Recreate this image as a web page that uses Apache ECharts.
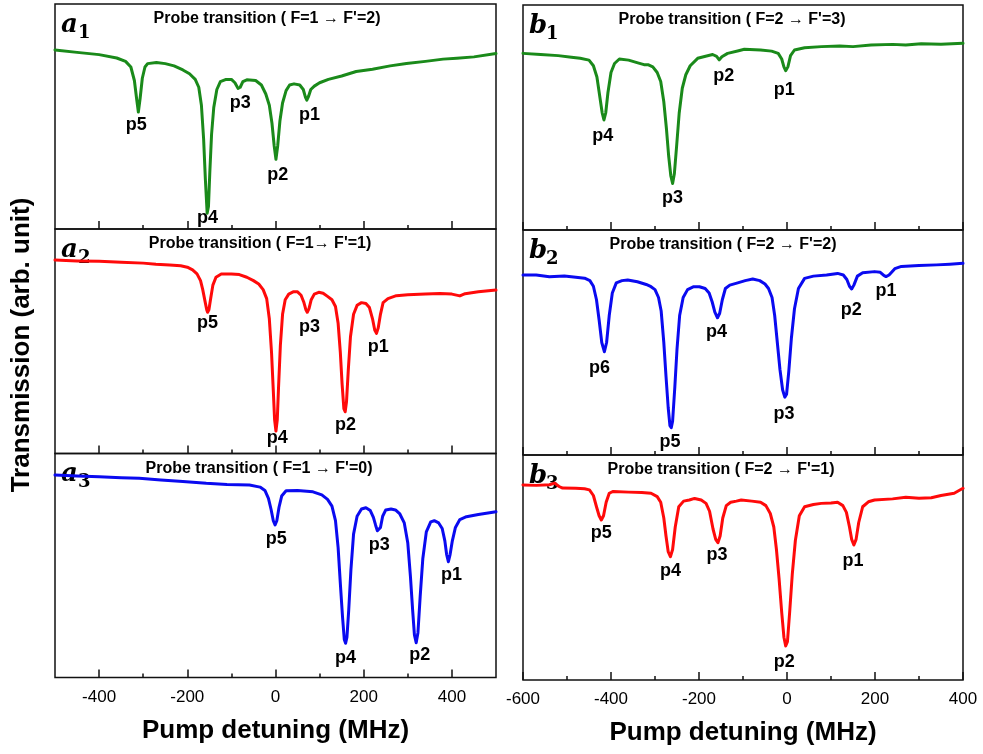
<!DOCTYPE html>
<html>
<head>
<meta charset="utf-8" />
<script src="https://cdn.jsdelivr.net/npm/echarts@6/dist/echarts.min.js"></script>
<style>
  html, body { margin: 0; padding: 0; background: #fff; }
  #main { width: 983px; height: 754px; }
</style>
</head>
<body>
<div id="main"></div>
<script>
// pump detuning (MHz) vs transmission (arb. unit)
const a1Curve = [[-500,0.796],[-450,0.785],[-400,0.775],[-360,0.760],[-340,0.745],[-328,0.72],[-320,0.66],[-315,0.58],[-311,0.52],[-307,0.58],[-302,0.67],[-296,0.72],[-290,0.735],[-270,0.74],[-250,0.735],[-230,0.725],[-210,0.707],[-195,0.69],[-182,0.665],[-174,0.63],[-168,0.55],[-163,0.40],[-159,0.22],[-155,0.07],[-152,0.10],[-149,0.25],[-145,0.42],[-140,0.54],[-133,0.62],[-125,0.655],[-112,0.665],[-100,0.665],[-92,0.65],[-85,0.625],[-80,0.63],[-74,0.655],[-65,0.663],[-45,0.66],[-32,0.64],[-22,0.60],[-14,0.55],[-8,0.47],[-3,0.37],[1,0.31],[5,0.37],[10,0.48],[16,0.56],[24,0.615],[32,0.64],[42,0.645],[55,0.64],[63,0.62],[68,0.585],[71,0.573],[75,0.59],[80,0.62],[88,0.635],[100,0.65],[120,0.665],[150,0.68],[183,0.70],[220,0.71],[260,0.725],[297,0.736],[340,0.745],[380,0.755],[411,0.759],[450,0.765],[500,0.78]];
const a2Curve = [[-500,0.862],[-450,0.858],[-400,0.856],[-350,0.852],[-300,0.848],[-271,0.843],[-240,0.84],[-215,0.836],[-200,0.83],[-188,0.818],[-178,0.80],[-170,0.77],[-165,0.73],[-160,0.68],[-156,0.64],[-154,0.629],[-151,0.64],[-147,0.69],[-142,0.75],[-135,0.785],[-123,0.80],[-100,0.80],[-82,0.797],[-65,0.785],[-50,0.77],[-38,0.755],[-28,0.73],[-20,0.69],[-14,0.60],[-9,0.45],[-5,0.28],[-2,0.15],[1,0.10],[4,0.15],[7,0.30],[11,0.48],[16,0.62],[22,0.685],[30,0.71],[40,0.72],[50,0.72],[58,0.705],[64,0.675],[69,0.64],[72,0.629],[76,0.645],[81,0.685],[88,0.71],[98,0.718],[108,0.714],[118,0.70],[128,0.685],[136,0.655],[142,0.58],[147,0.45],[151,0.31],[155,0.20],[158,0.186],[161,0.23],[165,0.37],[170,0.52],[177,0.62],[185,0.66],[195,0.672],[205,0.668],[213,0.65],[220,0.60],[225,0.55],[229,0.535],[233,0.56],[238,0.62],[244,0.672],[255,0.69],[274,0.703],[300,0.707],[340,0.71],[373,0.713],[400,0.71],[418,0.702],[430,0.712],[460,0.72],[500,0.728]];
const a3Curve = [[-500,0.904],[-450,0.90],[-400,0.896],[-350,0.892],[-309,0.889],[-260,0.882],[-210,0.875],[-157,0.867],[-110,0.862],[-59,0.859],[-35,0.85],[-24,0.835],[-16,0.80],[-10,0.75],[-5,0.70],[-1,0.681],[3,0.70],[8,0.76],[14,0.81],[24,0.834],[50,0.835],[85,0.829],[105,0.815],[118,0.795],[128,0.765],[136,0.70],[142,0.58],[147,0.42],[152,0.27],[156,0.17],[159,0.153],[162,0.18],[166,0.30],[171,0.48],[177,0.64],[185,0.72],[195,0.752],[205,0.758],[215,0.745],[222,0.715],[227,0.68],[231,0.655],[234,0.651],[238,0.67],[243,0.72],[250,0.748],[262,0.752],[272,0.748],[282,0.73],[292,0.69],[300,0.60],[306,0.45],[311,0.30],[315,0.19],[319,0.155],[323,0.20],[328,0.36],[334,0.53],[342,0.65],[352,0.695],[360,0.70],[370,0.69],[378,0.665],[384,0.61],[388,0.55],[392,0.517],[396,0.55],[401,0.61],[408,0.67],[418,0.705],[433,0.718],[460,0.728],[500,0.74]];
const b1Curve = [[-600,0.785],[-560,0.78],[-520,0.775],[-490,0.768],[-470,0.763],[-450,0.755],[-440,0.73],[-432,0.68],[-426,0.60],[-420,0.52],[-416,0.489],[-412,0.52],[-407,0.61],[-400,0.70],[-392,0.74],[-381,0.76],[-360,0.755],[-339,0.743],[-325,0.735],[-316,0.735],[-305,0.725],[-295,0.70],[-287,0.66],[-280,0.57],[-274,0.45],[-269,0.33],[-264,0.24],[-260,0.207],[-256,0.25],[-251,0.37],[-245,0.52],[-238,0.63],[-230,0.69],[-220,0.73],[-203,0.763],[-185,0.772],[-169,0.78],[-160,0.772],[-154,0.756],[-148,0.77],[-135,0.785],[-110,0.797],[-97,0.803],[-60,0.80],[-35,0.795],[-20,0.785],[-12,0.76],[-7,0.725],[-3,0.708],[2,0.725],[8,0.775],[17,0.80],[40,0.81],[78,0.815],[120,0.818],[150,0.815],[191,0.822],[240,0.825],[270,0.822],[305,0.828],[350,0.826],[400,0.83]];
const b2Curve = [[-600,0.80],[-570,0.80],[-540,0.792],[-506,0.796],[-480,0.79],[-460,0.786],[-448,0.775],[-440,0.75],[-433,0.69],[-427,0.60],[-421,0.50],[-415,0.459],[-410,0.50],[-404,0.62],[-397,0.72],[-388,0.765],[-375,0.775],[-362,0.778],[-340,0.77],[-320,0.758],[-309,0.748],[-300,0.735],[-292,0.70],[-286,0.64],[-280,0.50],[-275,0.35],[-270,0.21],[-266,0.13],[-263,0.121],[-260,0.15],[-255,0.30],[-250,0.47],[-244,0.62],[-236,0.70],[-226,0.735],[-212,0.748],[-199,0.748],[-186,0.74],[-177,0.72],[-170,0.68],[-164,0.635],[-158,0.61],[-153,0.63],[-147,0.69],[-140,0.74],[-130,0.755],[-112,0.765],[-95,0.775],[-78,0.782],[-62,0.775],[-50,0.76],[-42,0.74],[-34,0.70],[-28,0.62],[-22,0.50],[-16,0.38],[-10,0.29],[-5,0.257],[-1,0.27],[4,0.37],[10,0.52],[17,0.65],[26,0.74],[40,0.785],[60,0.795],[90,0.80],[115,0.807],[128,0.80],[136,0.78],[142,0.75],[147,0.738],[152,0.755],[160,0.795],[172,0.81],[199,0.815],[212,0.812],[220,0.798],[225,0.793],[232,0.80],[245,0.828],[260,0.838],[300,0.842],[340,0.845],[370,0.848],[400,0.852]];
const b3Curve = [[-600,0.867],[-570,0.865],[-540,0.868],[-528,0.875],[-518,0.86],[-510,0.853],[-480,0.852],[-460,0.85],[-449,0.845],[-440,0.82],[-433,0.77],[-427,0.73],[-422,0.711],[-417,0.73],[-411,0.79],[-404,0.83],[-395,0.838],[-360,0.835],[-330,0.833],[-309,0.83],[-295,0.815],[-287,0.79],[-280,0.72],[-275,0.64],[-270,0.57],[-265,0.548],[-260,0.58],[-254,0.68],[-246,0.77],[-235,0.795],[-222,0.80],[-210,0.807],[-195,0.80],[-184,0.785],[-176,0.75],[-168,0.67],[-162,0.625],[-157,0.61],[-152,0.64],[-146,0.72],[-138,0.775],[-128,0.79],[-115,0.795],[-104,0.80],[-80,0.795],[-60,0.79],[-48,0.775],[-38,0.74],[-30,0.68],[-24,0.58],[-18,0.45],[-12,0.30],[-7,0.19],[-3,0.151],[1,0.17],[6,0.30],[12,0.47],[19,0.62],[28,0.73],[40,0.77],[60,0.78],[78,0.785],[100,0.787],[115,0.79],[127,0.775],[135,0.745],[142,0.68],[147,0.625],[152,0.60],[157,0.625],[163,0.70],[172,0.77],[185,0.792],[199,0.80],[240,0.805],[270,0.812],[300,0.808],[328,0.81],[350,0.82],[380,0.83],[400,0.852]];

// peak names, placed under each dip [detuning, transmission, name]
const a1Peaks = [[-316,0.462,'p5'],[-154,0.049,'p4'],[-80,0.56,'p3'],[5,0.24,'p2'],[77,0.507,'p1']];
const a2Peaks = [[-154,0.58,'p5'],[4,0.068,'p4'],[77,0.565,'p3'],[159,0.127,'p2'],[233,0.476,'p1']];
const a3Peaks = [[1.5,0.617,'p5'],[159,0.086,'p4'],[235,0.592,'p3'],[327,0.10,'p2'],[399,0.458,'p1']];
const b1Peaks = [[-419,0.418,'p4'],[-260,0.141,'p3'],[-144,0.684,'p2'],[-6,0.622,'p1']];
const b2Peaks = [[-426,0.385,'p6'],[-266,0.056,'p5'],[-160,0.545,'p4'],[-7,0.181,'p3'],[146,0.644,'p2'],[225,0.729,'p1']];
const b3Peaks = [[-422,0.655,'p5'],[-265,0.486,'p4'],[-159,0.556,'p3'],[-6,0.081,'p2'],[150,0.529,'p1']];

// tick labels
const leftTicks = [-400, -200, 0, 200, 400];
const leftMinor = [-300, -100, 100, 300];
const rightTicks = [-600, -400, -200, 0, 200, 400];
const rightMinor = [-500, -300, -100, 100, 300];

const GREEN = '#1a8a1a', RED = '#ff0a0a', BLUE = '#0a0af0';

const columns = [
  { left: 55, width: 441, min: -500, max: 500, ticks: leftTicks, minor: leftMinor,
    tops: [4, 229, 453.5], heights: [225, 224.5, 224] },
  { left: 523, width: 440, min: -600, max: 400, ticks: rightTicks, minor: rightMinor,
    tops: [5, 230, 455], heights: [225, 225, 225] }
];

const panels = [
  { col: 0, row: 0, letter: 'a', sub: '1', title: "Probe transition ( F=1 \u2192 F'=2)", tx: 212, curve: a1Curve, peaks: a1Peaks, color: GREEN },
  { col: 0, row: 1, letter: 'a', sub: '2', title: "Probe transition ( F=1\u2192 F'=1)", tx: 205, curve: a2Curve, peaks: a2Peaks, color: RED },
  { col: 0, row: 2, letter: 'a', sub: '3', title: "Probe transition ( F=1 \u2192 F'=0)", tx: 204, curve: a3Curve, peaks: a3Peaks, color: BLUE },
  { col: 1, row: 0, letter: 'b', sub: '1', title: "Probe transition ( F=2 \u2192 F'=3)", tx: 209, curve: b1Curve, peaks: b1Peaks, color: GREEN },
  { col: 1, row: 1, letter: 'b', sub: '2', title: "Probe transition ( F=2 \u2192 F'=2)", tx: 200, curve: b2Curve, peaks: b2Peaks, color: BLUE },
  { col: 1, row: 2, letter: 'b', sub: '3', title: "Probe transition ( F=2 \u2192 F'=1)", tx: 198, curve: b3Curve, peaks: b3Peaks, color: RED }
];

const SANS = 'Liberation Sans, Arial, sans-serif';

const grid = [], xAxis = [], yAxis = [], series = [], graphic = [];

panels.forEach((p, i) => {
  const c = columns[p.col];
  const top = c.tops[p.row], h = c.heights[p.row];
  const isBottom = p.row === 2;
  grid.push({
    left: c.left, top: top, width: c.width, height: h,
    show: true, borderColor: '#111', borderWidth: 1.5, backgroundColor: 'transparent'
  });
  // major ticks + labels
  xAxis.push({
    type: 'value', gridIndex: i, min: c.min, max: c.max, position: 'bottom',
    axisLine: { show: false },
    splitLine: { show: false },
    axisTick: { show: true, inside: true, length: 8, customValues: c.ticks, lineStyle: { color: '#111', width: 1.5 } },
    axisLabel: {
      show: isBottom, customValues: c.ticks, margin: 11,
      color: '#000', fontSize: 17, fontFamily: SANS
    },
    name: isBottom ? 'Pump detuning (MHz)' : '',
    nameLocation: 'middle', nameGap: 40,
    nameTextStyle: { color: '#000', fontSize: 26, fontWeight: 'bold', fontFamily: SANS }
  });
  // minor ticks
  xAxis.push({
    type: 'value', gridIndex: i, min: c.min, max: c.max, position: 'bottom',
    axisLine: { show: false },
    splitLine: { show: false },
    axisTick: { show: true, inside: true, length: 4, customValues: c.minor, lineStyle: { color: '#111', width: 1.5 } },
    axisLabel: { show: false }
  });
  yAxis.push({ type: 'value', gridIndex: i, min: 0, max: 1, show: false });

  series.push({
    type: 'line', xAxisIndex: 2 * i, yAxisIndex: i,
    data: p.curve, showSymbol: false, silent: true,
    lineStyle: { color: p.color, width: 3, join: 'round', cap: 'round' },
    itemStyle: { color: p.color }
  });
  series.push({
    type: 'scatter', xAxisIndex: 2 * i, yAxisIndex: i,
    data: p.peaks, symbolSize: 0, silent: true,
    itemStyle: { color: '#000', opacity: 1 },
    label: {
      show: true, position: 'inside', opacity: 1,
      formatter: params => params.value[2],
      color: '#000', fontSize: 18, fontWeight: 'bold', fontFamily: SANS,
      textBorderWidth: 0, textBorderColor: 'transparent'
    }
  });

  // title inside each panel
  graphic.push({
    type: 'text', x: c.left + p.tx, y: top + 15,
    style: {
      text: p.title, fill: '#000', font: 'bold 16px ' + SANS,
      textAlign: 'center', textVerticalAlign: 'middle', align: 'center', verticalAlign: 'middle'
    }
  });
  // panel tag, e.g. a with subscript 1
  graphic.push({
    type: 'text', x: c.left + 6, y: top + 21,
    style: {
      text: p.letter, fill: '#000', font: 'italic bold 26px DejaVu Serif, serif',
      textAlign: 'left', textVerticalAlign: 'middle', align: 'left', verticalAlign: 'middle'
    }
  });
  graphic.push({
    type: 'text', x: c.left + 23, y: top + 29,
    style: {
      text: p.sub, fill: '#000', font: 'bold 18px DejaVu Serif, serif',
      textAlign: 'left', textVerticalAlign: 'middle', align: 'left', verticalAlign: 'middle'
    }
  });
});

// shared y axis title
graphic.push({
  type: 'text', x: 22, y: 345, rotation: Math.PI / 2,
  style: {
    text: 'Transmission (arb. unit)', fill: '#000', font: 'bold 26px ' + SANS,
    textAlign: 'center', textVerticalAlign: 'middle', align: 'center', verticalAlign: 'middle'
  }
});

const myChart = echarts.init(document.getElementById('main'), null, { renderer: 'canvas' });
myChart.setOption({
  backgroundColor: '#fff',
  animation: false,
  grid: grid,
  xAxis: xAxis,
  yAxis: yAxis,
  series: series,
  graphic: graphic
});
</script>
</body>
</html>
